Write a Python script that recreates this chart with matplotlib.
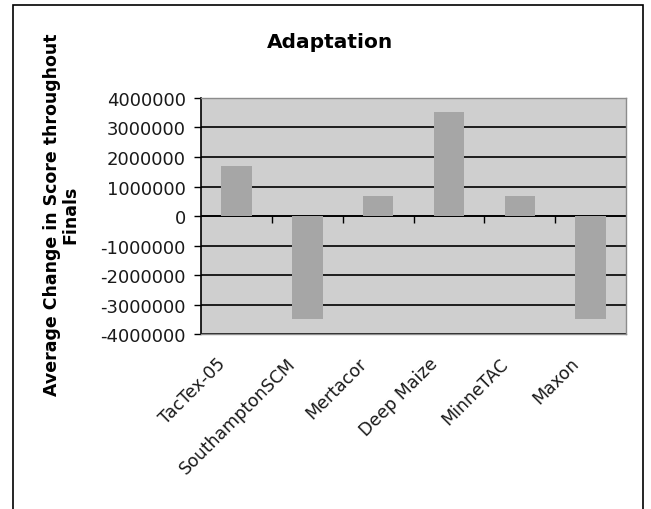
import matplotlib
matplotlib.use("Agg")
import matplotlib.pyplot as plt
import matplotlib.transforms as mtransforms
from matplotlib.patches import Rectangle
from matplotlib.ticker import StrMethodFormatter
import numpy as np

# data
teams = ["TacTex-05", "SouthamptonSCM", "Mertacor", "Deep Maize", "MinneTAC", "Maxon"]
avg_change = [1700000, -3480000, 680000, 3540000, 680000, -3480000]
y_ticks = [-4000000, -3000000, -2000000, -1000000, 0, 1000000, 2000000, 3000000, 4000000]

plt.rcParams["axes.unicode_minus"] = False
plt.rcParams["font.family"] = "DejaVu Sans"

fig = plt.figure(figsize=(6.51, 5.10), dpi=100)
ax = fig.add_axes([0.3088, 0.3431, 0.6528, 0.4628])

# outer chart border
fig.patches.append(Rectangle((13 / 651, -0.02), 630 / 651, 1 - 6 / 510 + 0.02,
                             transform=fig.transFigure, fill=False,
                             edgecolor="black", linewidth=1.2))

x = np.arange(len(teams))
ax.set_facecolor("#cfcfcf")
ax.set_axisbelow(True)
ax.yaxis.grid(True, color="black", linewidth=1.2)
ax.bar(x, avg_change, width=0.43, color="#a6a6a6", zorder=2)
ax.axhline(0, color="black", linewidth=1.2, zorder=1)

# little ticks on the zero line between categories
bounds = np.arange(len(teams) - 1) + 0.5
ax.plot(bounds, np.zeros(len(bounds)), linestyle="none", marker=3,
        markersize=5, color="black", markeredgewidth=1.0, zorder=3)

ax.set_xlim(-0.5, len(teams) - 0.5)
ax.set_ylim(y_ticks[0], y_ticks[-1])
ax.set_yticks(y_ticks)
ax.yaxis.set_major_formatter(StrMethodFormatter("{x:.0f}"))
ax.tick_params(axis="y", direction="out", length=5, width=1, labelsize=13,
               pad=6, colors="black", labelcolor="#1a1a1a")

ax.set_xticks(x)
ax.set_xticklabels(teams, rotation=45, ha="right", va="center",
                   rotation_mode="anchor", fontsize=12.5, color="#1a1a1a")
ax.tick_params(axis="x", length=0, pad=19)
offset = mtransforms.ScaledTranslation(-14 / 100, 0, fig.dpi_scale_trans)
for lbl in ax.get_xticklabels():
    lbl.set_transform(lbl.get_transform() + offset)

for side in ["top", "right", "bottom"]:
    ax.spines[side].set_color("#8c8c8c")
    ax.spines[side].set_linewidth(1.0)
ax.spines["left"].set_color("black")
ax.spines["left"].set_linewidth(1.2)

fig.text(330 / 651, 1 - 42 / 510, "Adaptation", ha="center", va="center",
         fontsize=14.5, fontweight="bold")
fig.text(61 / 651, 1 - 215 / 510, "Average Change in Score throughout\nFinals",
         rotation=90, ha="center", va="center", multialignment="center",
         fontsize=12.5, fontweight="bold", linespacing=1.05)

fig.savefig("out.png", dpi=100)
